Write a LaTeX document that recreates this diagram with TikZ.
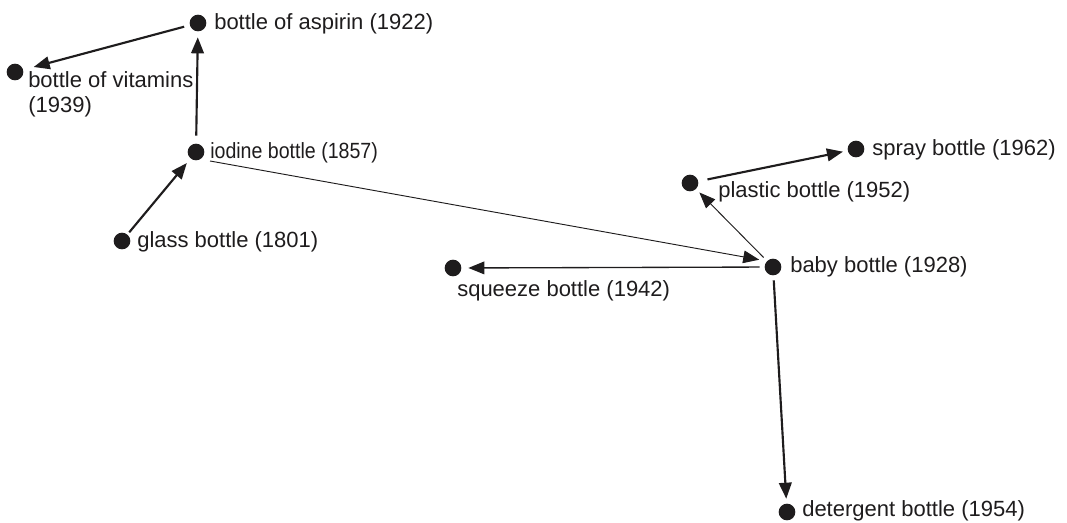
\documentclass[tikz,border=0pt]{standalone}
\usepackage{fontspec}
\setmainfont{Liberation Sans}
\usetikzlibrary{arrows.meta}
\definecolor{ink}{RGB}{30,28,29}
\begin{document}
\begin{tikzpicture}[x=0.75pt,y=-0.75pt,
  dot/.style={circle,fill=ink,inner sep=0pt,minimum size=12.5pt,outer sep=0pt},
  lbl/.style={anchor=base west,inner sep=0pt,font=\fontsize{16.5}{24}\selectfont,text=ink,align=left},
  heavy/.style={draw=ink,line width=1.6pt,-{Triangle[length=12pt,width=9.5pt]}},
  medium/.style={draw=ink,line width=1pt,-{Triangle[length=12pt,width=9.5pt]}},
  light/.style={draw=ink,line width=0.7pt,-{Triangle[length=12pt,width=9.5pt]}}]
\useasboundingbox (0,0) rectangle (1067,522);
% dots
\node[dot] (aspirin)   at (198,23)  {};
\node[dot] (vitamins)  at (15,72)   {};
\node[dot] (iodine)    at (196,152) {};
\node[dot] (glass)     at (122,241) {};
\node[dot] (spray)     at (856,149) {};
\node[dot] (plastic)   at (690,183) {};
\node[dot] (baby)      at (773,267) {};
\node[dot] (squeeze)   at (453,268) {};
\node[dot] (detergent) at (787,512) {};
% labels
\node[lbl] (laspirin)   at (214,29)  {bottle of aspirin (1922)};
\node[lbl] (lvitamins)  at (28,87)   {bottle of vitamins};
\node[lbl] (lvitamins2) at (28,112)  {(1939)};
\node[lbl] (liodine)    at (210,158) {\scalebox{0.89}[1]{iodine bottle (1857)}};
\node[lbl] (lglass)     at (137,247) {glass bottle (1801)};
\node[lbl] (lspray)     at (872,155) {spray bottle (1962)};
\node[lbl] (lplastic)   at (718,197) {plastic bottle (1952)};
\node[lbl] (lbaby)      at (790,272) {baby bottle (1928)};
\node[lbl] (lsqueeze)   at (457,296) {squeeze bottle (1942)};
\node[lbl] (ldetergent) at (802,516) {detergent bottle (1954)};
% connectors
\draw[heavy,shorten <=2.25pt,shorten >=4.5pt] (glass) -- (iodine);
\draw[heavy,shorten <=6pt,shorten >=4.5pt] (iodine) -- (aspirin);
\draw[heavy,shorten <=4.5pt,shorten >=8.25pt] (aspirin) -- (vitamins);
\draw[light,shorten <=7.5pt,shorten >=6pt] (iodine.-60) -- (baby.135);
\draw[light,shorten <=3.75pt,shorten >=3.75pt] (baby) -- (plastic);
\draw[heavy,shorten <=7.1pt,shorten >=3.75pt] (plastic) -- (spray);
\draw[medium,shorten <=3.75pt,shorten >=5.25pt] (baby) -- (squeeze);
\draw[heavy,shorten <=3.75pt,shorten >=3.75pt] (baby) -- (detergent);
\end{tikzpicture}
\end{document}
